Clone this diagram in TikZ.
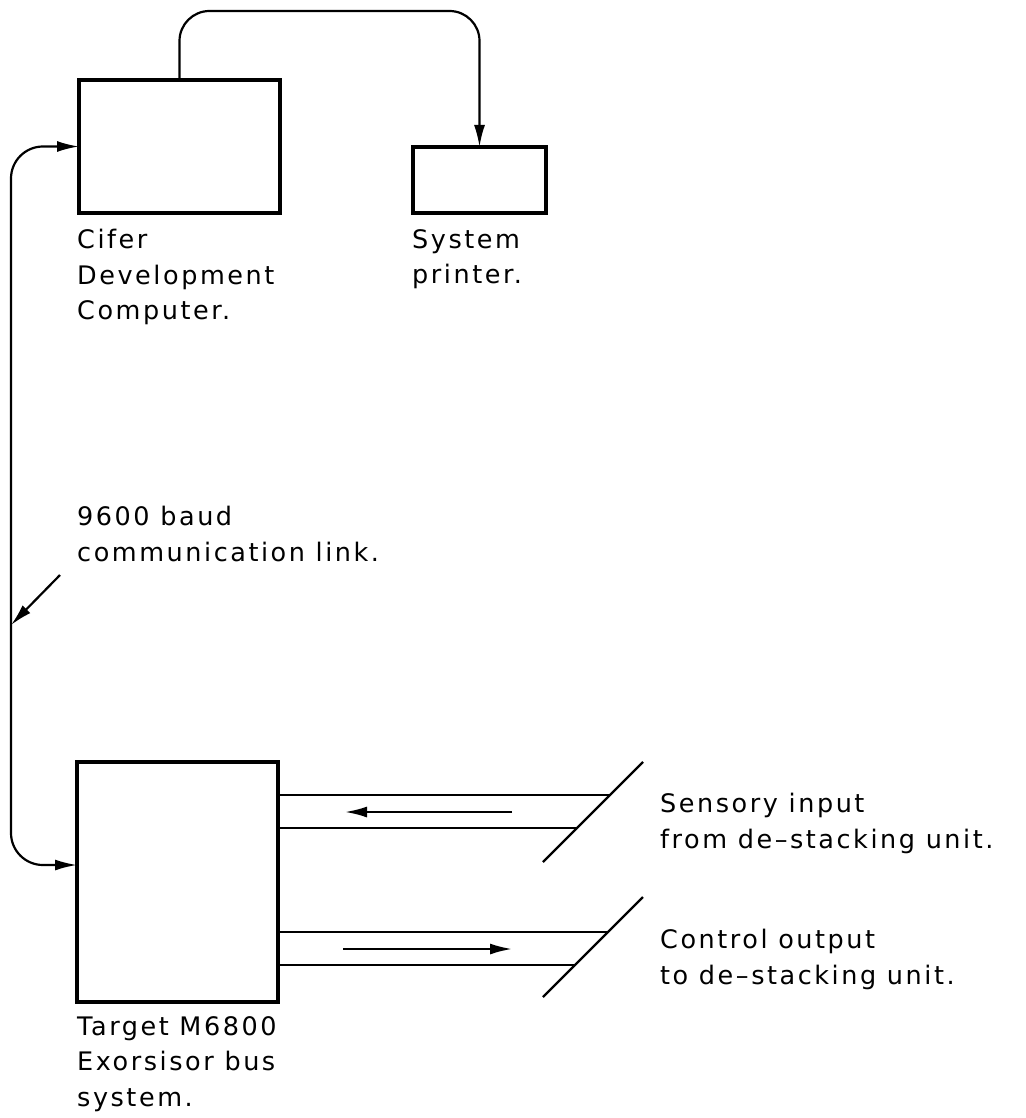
\documentclass[tikz,border=0pt]{standalone}
\usepackage{fontspec}
\setmainfont{DejaVu Sans}[LetterSpace=10]
\usetikzlibrary{arrows.meta,calc}
\tikzset{
  box/.style={draw, line width=4.5pt, inner sep=0pt, outer sep=0pt, fill=none},
  conn/.style={line width=2.2pt},
  tip/.style={-{Latex[length=22pt,width=11pt]}},
  lbl/.style={anchor=north west, inner sep=0pt, align=left,
              font=\fontsize{25.5}{35.5}\selectfont},
}
\begin{document}
\begin{tikzpicture}[x=1pt,y=-1pt]
\useasboundingbox (0,0) rectangle (1025,1118);
% boxes
\node[box, minimum width=201pt, minimum height=133pt] (cifer) at (179.5,146.5) {};
\node[box, minimum width=133pt, minimum height=66pt] (printer) at (479.5,180) {};
\node[box, minimum width=201pt, minimum height=240pt] (target) at (177.5,882) {};
% labels
\node[lbl] (lcifer) at (77,229) {Cifer\\Development\\Computer.};
\node[lbl] (lprinter) at (412,229) {System\\printer.};
\node[lbl] (llink) at (77,506) {9600 baud\\communication link.};
\node[lbl] (lsens) at (660,793) {Sensory input\\from de–stacking unit.};
\node[lbl] (lctrl) at (660,929) {Control output\\to de–stacking unit.};
\node[lbl] (ltarget) at (77,1016) {Target M6800\\Exorsisor bus\\system.};
% coordinates
\coordinate (topy) at (0,11);
\coordinate (lx) at (11,0);
\coordinate (tin) at (target.west |- 0,865);
\coordinate (linkpt) at (11,625);
\coordinate (lbltail) at (60,575);
% printer connection
\draw[conn, tip, rounded corners=30pt] (cifer.north) -- (cifer.north |- topy) -| (printer.north);
% serial link
\draw[conn, {Latex[length=22pt,width=11pt]}-{Latex[length=22pt,width=11pt]}, rounded corners=32pt]
  (cifer.west) -- (lx |- cifer.west) -- (lx |- tin) -- (tin);
\draw[conn, tip] (lbltail) -- (linkpt);
% sensory input channel
\coordinate (s1) at (target.east |- 0,795);
\coordinate (s2) at (target.east |- 0,828);
\coordinate (sd1) at (543,862);
\coordinate (sd2) at (643,762);
\draw[conn] (s1) -- (610,795);
\draw[conn] (s2) -- (577,828);
\draw[conn] (sd1) -- (sd2);
\coordinate (sa1) at (512,812);
\coordinate (sa2) at (345,812);
\draw[conn, tip] (sa1) -- (sa2);
% control output channel
\coordinate (c1) at (target.east |- 0,932);
\coordinate (c2) at (target.east |- 0,965);
\coordinate (cd1) at (543,997);
\coordinate (cd2) at (643,897);
\draw[conn] (c1) -- (608,932);
\draw[conn] (c2) -- (575,965);
\draw[conn] (cd1) -- (cd2);
\coordinate (ca1) at (343,949);
\coordinate (ca2) at (512,949);
\draw[conn, tip] (ca1) -- (ca2);
\end{tikzpicture}
\end{document}
